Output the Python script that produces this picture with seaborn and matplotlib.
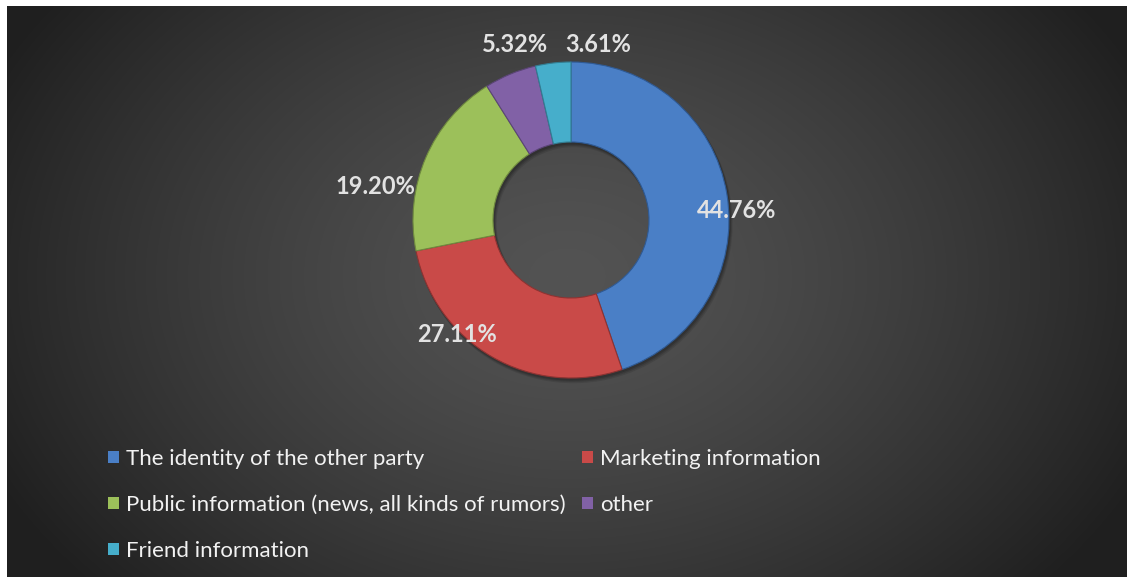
import numpy as np
import matplotlib
matplotlib.use("Agg")
import matplotlib.pyplot as plt
from matplotlib.patches import Patch
import seaborn as sns

# ---- data ----
categories = ["The identity of the other party", "Marketing information",
              "Public information (news, all kinds of rumors)", "other",
              "Friend information"]
shares = [44.76, 27.11, 19.20, 5.32, 3.61]
pct_labels = ["44.76%", "27.11%", "19.20%", "5.32%", "3.61%"]

# ---- style ----
sns.set_theme(style="dark")
plt.rcParams["font.family"] = ["Lato", "DejaVu Sans"]
colors = sns.color_palette(["#4a7fc6", "#c94a48", "#9cc05a", "#8161a6", "#46aecb"])
edge_colors = sns.color_palette(["#2f5a94", "#8e3332", "#6f8a3f", "#5b4577", "#327d92"])

W, H = 1127, 577
fig = plt.figure(figsize=(W / 100, H / 100), dpi=100, facecolor="white")

# background radial gradient
bg = fig.add_axes([7 / W, 0, 1 - 7 / W, 1 - 6 / H])
bg.set_axis_off()
yy, xx = np.mgrid[0:571, 0:1120]
r = np.sqrt(((xx - 560) / 640.0) ** 2 + ((yy - 270) / 470.0) ** 2)
val = 0x53 - (0x53 - 0x1f) * np.clip(r, 0, 1) ** 1.4
img = np.dstack([val, val, val]) / 255.0
bg.imshow(img, aspect="auto", interpolation="bilinear")

# donut axes: center (571, 220) px, outer radius 158 px
cx, cy, R = 571, 220, 158
left, right, top, bottom = cx - 270, cx + 270, cy - 200, cy + 200
ax = fig.add_axes([left / W, 1 - bottom / H, (right - left) / W, (bottom - top) / H])
ax.set_axis_off()
ax.patch.set_alpha(0)

ring = (158 - 78) / 158

# soft shadow
for k, a in [(4, 0.10), (3, 0.12), (2, 0.15)]:
    off = k / R
    ax.pie(shares, radius=1 + off * 0.3, startangle=90, counterclock=False,
           center=(off * 0.6, -off),
           colors=["black"] * len(shares),
           wedgeprops=dict(width=ring + off * 0.6, alpha=a, linewidth=0))

wedges, _ = ax.pie(shares, radius=1, startangle=90, counterclock=False,
                   colors=colors,
                   wedgeprops=dict(width=ring, linewidth=0.8))
for w, ec in zip(wedges, edge_colors):
    w.set_edgecolor(ec)

ax.set_xlim(-270 / R, 270 / R)
ax.set_ylim(-200 / R, 200 / R)
ax.set_aspect("auto")

# percentage labels (placement of the label boxes, in radius units)
label_pos = [(166, -10), (-114, 115), (-196, -34), (-56, -175), (27, -175)]
for (dx, dy), t in zip(label_pos, pct_labels):
    ax.text(dx / R, -dy / R, t, ha="center", va="center", fontsize=17,
            fontweight="bold", color="#e2e2e2")

# legend
order = [0, 2, 4, 1, 3]
handles = [Patch(facecolor=colors[i], edgecolor="none") for i in order]
labels = [categories[i] for i in order]
leg = fig.legend(handles, labels, ncol=2, loc="upper left",
                 bbox_to_anchor=(108 / W, 1 - 449 / H), frameon=False,
                 fontsize=16, labelcolor="#f2f2f2", handlelength=0.5,
                 handleheight=0.5, handletextpad=0.3, columnspacing=0.75,
                 labelspacing=1.17, borderpad=0, borderaxespad=0)

fig.savefig("out.png", dpi=100, facecolor="white")
